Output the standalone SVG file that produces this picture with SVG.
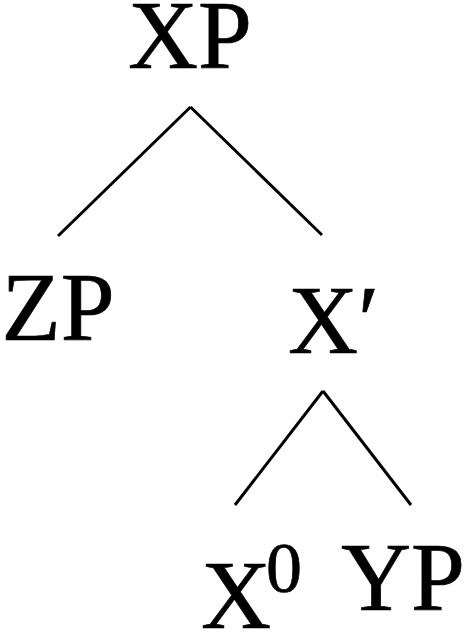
<svg xmlns="http://www.w3.org/2000/svg" width="464" height="632" viewBox="0 0 464 632">
<style>
.t{font-family:'Liberation Serif','Times New Roman',serif;font-size:97px;fill:#000;stroke:#000;stroke-width:0.7}
.sup{font-size:72px}
.edge{stroke:#000;stroke-width:3;fill:none;stroke-linecap:butt}
</style>
<rect width="464" height="632" fill="#fff"/>
<g id="connectors">
<line class="edge" x1="190.5" y1="107" x2="58" y2="236"/>
<line class="edge" x1="190.5" y1="107" x2="322" y2="235"/>
<line class="edge" x1="323" y1="391" x2="235" y2="505"/>
<line class="edge" x1="323" y1="391" x2="411" y2="505"/>
</g>
<g id="XP"><text class="t" x="190" y="68" text-anchor="middle">XP</text></g>
<g id="ZP"><text class="t" x="58" y="340" text-anchor="middle">ZP</text></g>
<g id="Xbar"><text class="t" x="288" y="353">X′</text></g>
<g id="X0"><text class="t" x="201" y="628">X<tspan class="sup" dx="-5" dy="-36">0</tspan></text></g>
<g id="YP"><text class="t" x="403" y="610" text-anchor="middle">YP</text></g>
</svg>
